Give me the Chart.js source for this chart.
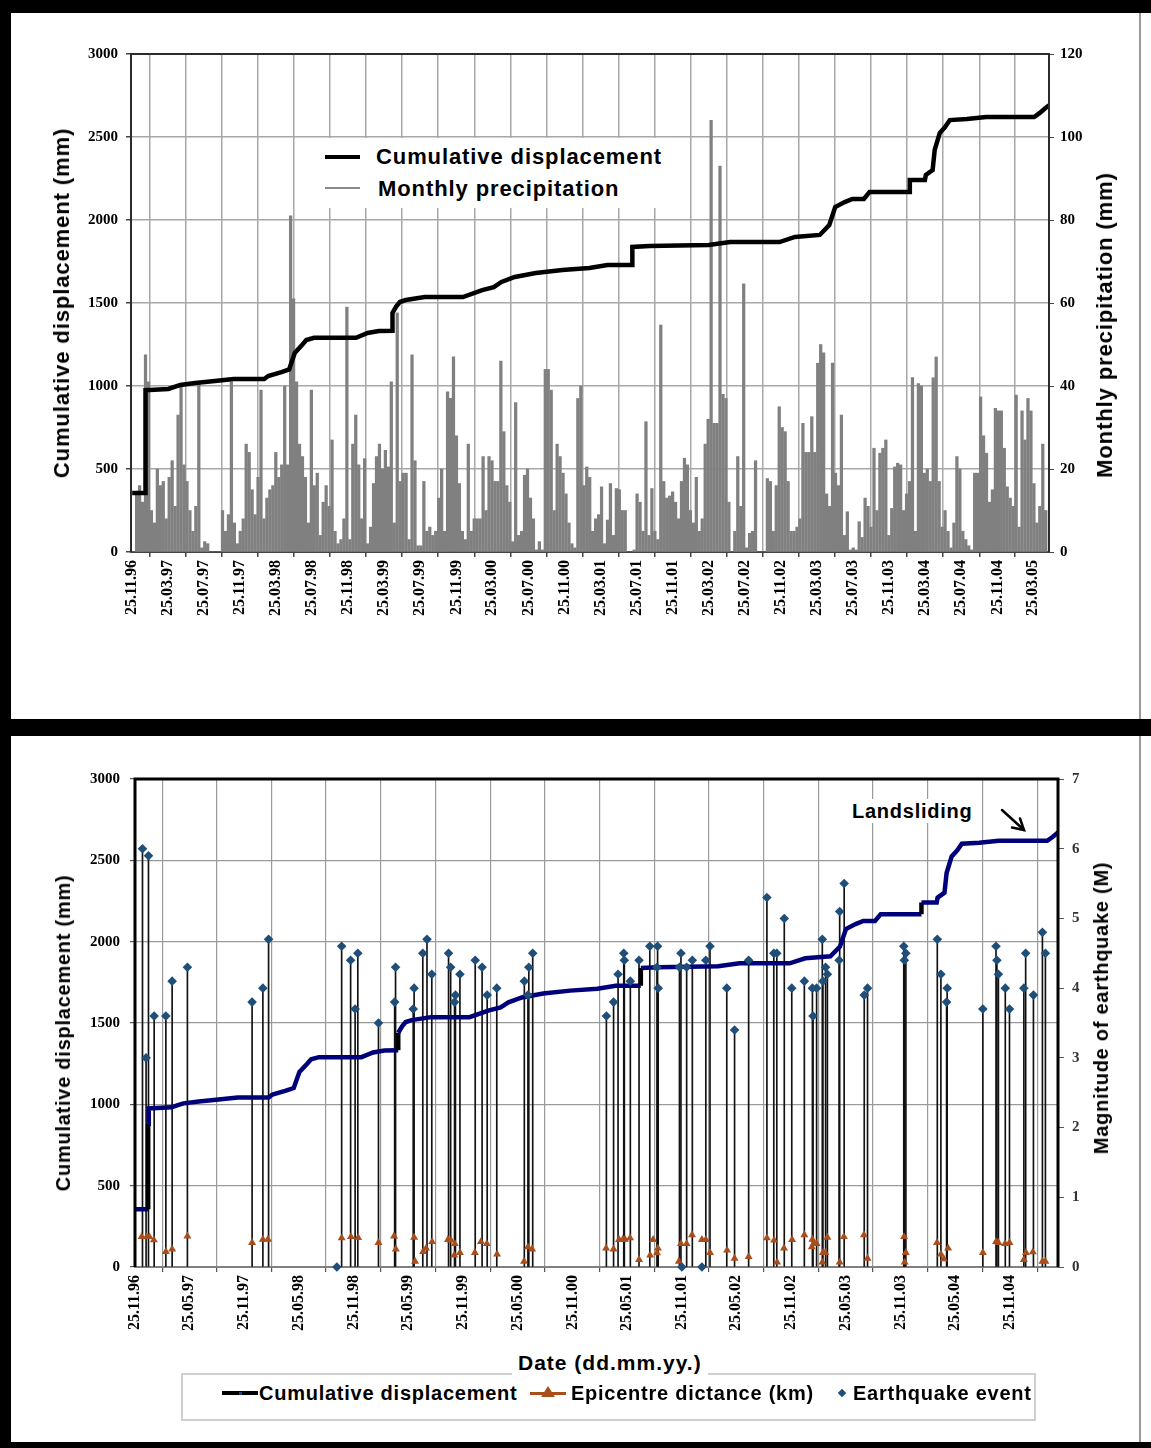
<!DOCTYPE html>
<html>
<head>
<meta charset="utf-8">
<script src="https://cdn.jsdelivr.net/npm/chart.js@4.4.1/dist/chart.umd.min.js"></script>
<style>
body { margin: 0; background: #fff; }
#page { position: relative; width: 1151px; height: 1448px; overflow: hidden; font-family: 'Liberation Sans', Arial, sans-serif; }
.box { position: absolute; }
.band { position: absolute; background: #000; z-index: 5; }
.ttl { position: absolute; font-weight: bold; white-space: nowrap; line-height: 1; transform: translate(-50%, -50%) rotate(-90deg); }
.lbl { position: absolute; font-weight: bold; white-space: nowrap; line-height: 1; transform: translateY(-50%); }
.big { font-size: 22px; letter-spacing: 0.9px; }
.mid { font-size: 20px; letter-spacing: 0.75px; }
.swatch { position: absolute; }
</style>
</head>
<body>
<div id="page">
  <div class="box" style="left:0;top:0;width:1151px;height:720px"><canvas id="topChart" width="1151" height="720"></canvas></div>
  <div class="box" style="left:0;top:736px;width:1151px;height:620px"><canvas id="bottomChart" width="1151" height="620"></canvas></div>

  <!-- frames -->
  <div class="band" style="left:0;top:0;width:1151px;height:13px"></div>
  <div class="band" style="left:0;top:0;width:11px;height:1448px"></div>
  <div class="band" style="left:0;top:719px;width:1151px;height:17px"></div>
  <div class="band" style="left:0;top:1442px;width:1151px;height:6px"></div>
  <div class="box" style="left:1139px;top:13px;width:2px;height:1429px;background:#9a9a9a"></div>

  <!-- upper panel texts -->
  <div class="ttl big" style="left:62px;top:303px">Cumulative displacement (mm)</div>
  <div class="ttl big" style="left:1105px;top:325px">Monthly precipitation (mm)</div>
  <div class="box" style="left:300px;top:138px;width:380px;height:70px;background:#fff"></div>
  <div class="swatch" style="left:325px;top:155px;width:35px;height:4px;background:#000"></div>
  <div class="lbl big" style="left:376px;top:157px">Cumulative displacement</div>
  <div class="swatch" style="left:325px;top:187px;width:35px;height:2px;background:#8a8a8a"></div>
  <div class="lbl big" style="left:378px;top:189px">Monthly precipitation</div>

  <!-- lower panel texts -->
  <div class="ttl mid" style="left:63px;top:1033px">Cumulative displacement (mm)</div>
  <div class="ttl mid" style="left:1101px;top:1008px">Magnitude of earthquake (M)</div>
  <div class="lbl mid" style="left:850px;top:811px;background:#fff;padding:2px 2px">Landsliding</div>
  <svg class="box" style="left:990px;top:800px" width="45" height="40">
    <g stroke="#000" stroke-width="2.5" fill="none" stroke-linecap="round">
      <line x1="12" y1="10" x2="34" y2="30"/>
      <polyline points="30,18.5 34,30 22,27.5"/>
    </g>
  </svg>
  <div class="box" style="left:181px;top:1373px;width:851px;height:44px;border:2px solid #cfcfcf"></div>
  <div class="lbl mid" style="left:512px;top:1362px;background:#fff;padding:3px 6px;font-size:21px;letter-spacing:1px">Date (dd.mm.yy.)</div>
  <div class="swatch" style="left:222px;top:1391px;width:36px;height:4px;background:#000"></div>
  <div class="swatch" style="left:239px;top:1392px;width:3px;height:3px;background:#1c3f8c"></div>
  <div class="lbl mid" style="left:259px;top:1393px">Cumulative displacement</div>
  <div class="swatch" style="left:530px;top:1392px;width:36px;height:3px;background:#a84d1c"></div>
  <svg class="box" style="left:541px;top:1386px" width="14" height="12"><polygon points="7,0 14,11 0,11" fill="#a84d1c"/></svg>
  <div class="lbl mid" style="left:571px;top:1393px">Epicentre dictance (km)</div>
  <div class="swatch" style="left:839px;top:1390px;width:6px;height:6px;background:#1f4e79;transform:rotate(45deg)"></div>
  <div class="lbl mid" style="left:853px;top:1393px">Earthquake event</div>
</div>

<script>
// dates are counted in days from 25.11.1996
const topTickDates = ['25.11.96', '25.03.97', '25.07.97', '25.11.97', '25.03.98', '25.07.98', '25.11.98',
  '25.03.99', '25.07.99', '25.11.99', '25.03.00', '25.07.00', '25.11.00', '25.03.01', '25.07.01', '25.11.01',
  '25.03.02', '25.07.02', '25.11.02', '25.03.03', '25.07.03', '25.11.03', '25.03.04', '25.07.04', '25.11.04', '25.03.05'];
const bottomTickDates = ['25.11.96', '25.05.97', '25.11.97', '25.05.98', '25.11.98', '25.05.99', '25.11.99',
  '25.05.00', '25.11.00', '25.05.01', '25.11.01', '25.05.02', '25.11.02', '25.05.03', '25.11.03', '25.05.04', '25.11.04'];

// cumulative displacement (mm)
const dispDays = [0, 44, 44, 46, 58, 122, 143, 162, 213, 279, 343, 446, 459, 504, 530, 549, 575, 588, 614, 756,
  795, 833, 879, 879, 892, 904, 924, 988, 1117, 1182, 1221, 1247, 1292, 1363, 1453, 1544, 1605, 1689, 1689, 1747,
  1947, 2019, 2186, 2238, 2322, 2354, 2374, 2406, 2432, 2471, 2490, 2626, 2626, 2677, 2680, 2703, 2710, 2727, 2745,
  2761, 2819, 2884, 3046, 3065, 3084, 3096];
const dispMm = [355, 355, 880, 975, 976, 982, 995, 1006, 1018, 1030, 1042, 1042, 1060, 1084, 1100, 1199, 1250, 1277, 1290, 1290,
  1319, 1331, 1333, 1440, 1480, 1506, 1518, 1536, 1536, 1578, 1596, 1627, 1657, 1681, 1699, 1711, 1729, 1729, 1838, 1843,
  1849, 1867, 1867, 1898, 1910, 1970, 2078, 2108, 2127, 2127, 2169, 2169, 2241, 2241, 2271, 2301, 2422, 2524, 2560,
  2602, 2608, 2620, 2620, 2645, 2675, 2690];

// precipitation (mm), one value per 10-day period from day 0
const precipFirstDay = 5;
const precipStepDays = 10;
const precipMm = [
  0, 14, 16, 12, 47.5, 41, 10, 7, 20, 16,
  17, 8, 18, 22, 11, 33, 40, 21, 17, 10,
  5, 11, 41, 1, 2.5, 2, 0, 0, 0, 0,
  10, 5, 9, 41, 7, 2, 5, 8, 26, 24,
  15, 9, 18, 39, 8, 13, 15, 16, 24, 18,
  21, 40, 21, 81, 61, 41, 26, 23, 18, 7,
  39, 16, 19, 4, 12, 16, 11, 27, 5, 2,
  3, 8, 59, 3, 26, 33, 21, 8, 22.5, 2,
  6, 16.5, 23, 26, 20, 24.5, 20.5, 41, 7, 57.6,
  17, 19, 19, 3, 47.5, 22, 1.5, 1.5, 17, 5,
  6, 4, 5, 13, 20, 5, 38.6, 37, 47, 28,
  16.5, 5, 3, 26, 5, 8, 8, 8, 23, 10,
  23, 22, 17, 17, 46, 29, 16, 12, 2.5, 36,
  4, 5, 18.5, 20, 13, 8, 0.5, 2.5, 0.5, 44,
  44, 39, 10, 26, 23, 19, 14, 7, 2, 1,
  37, 40, 16, 20.5, 18, 5, 8, 9, 15.7, 2,
  7.7, 16.5, 4, 15.3, 15, 10, 10, 0, 0, 0.5,
  14, 12, 5, 31.4, 4, 15.3, 5, 3, 54.7, 17,
  13, 13.5, 14.5, 12, 8, 17, 22.6, 21, 10, 7,
  18, 5, 8, 26, 32, 104, 31, 31, 93, 38,
  37, 12, 0, 5, 23, 11, 64.6, 1, 4.5, 5,
  22, 0, 0, 0, 17.7, 17, 5, 16, 35, 30,
  29, 17, 5, 5, 6, 8, 31, 24, 24, 32.6,
  24, 45.5, 50, 48, 14, 11, 45.5, 19, 16, 33,
  4, 9.7, 0.5, 1, 0.5, 7.3, 3.5, 13, 11, 6,
  25, 10, 23.8, 25, 27, 4, 10.5, 20.5, 21.4, 21,
  10, 14, 17, 42, 5, 40.6, 40, 19, 20, 17,
  42, 47, 17, 6, 10, 5, 1, 7, 23, 20,
  5, 3, 1.5, 0.5, 19, 19, 37.4, 28, 23.8, 12,
  15, 34.6, 34, 34, 25, 15.7, 13, 11, 37.8, 6,
  34, 27, 37, 34, 16.5, 7, 11, 26, 10];

// earthquake events: day and magnitude (M)
const quakeDays = [25, 37, 45, 64, 103, 124, 175, 391, 427, 446, 674, 690, 720, 735, 744, 813, 867, 870, 929, 932,
  961, 975, 991, 1047, 1054, 1067, 1070, 1085, 1136, 1159, 1176, 1208, 1300, 1312, 1315, 1328, 1574, 1598, 1613, 1632,
  1634, 1654, 1683, 1719, 1743, 1745, 1747, 1818, 1823, 1826, 1842, 1861, 1893, 1906, 1920, 1976, 2002, 2049, 2110, 2133,
  2143, 2168, 2193, 2235, 2262, 2264, 2276, 2295, 2297, 2306, 2312, 2351, 2353, 2368, 2435, 2446, 2567, 2569, 2574, 2679,
  2691, 2710, 2712, 2831, 2875, 2878, 2883, 2906, 2920, 2968, 2974, 3000, 3030, 3040];
const quakeMag = [6.0, 3.0, 5.9, 3.6, 3.6, 4.1, 4.3, 3.8, 4.0, 4.7, 0, 4.6, 4.4, 3.7, 4.5, 3.5, 3.8, 4.3, 3.7, 4.0,
  4.5, 4.7, 4.2, 4.5, 4.3, 3.8, 3.9, 4.2, 4.4, 4.3, 3.9, 4.0, 4.1, 3.9, 4.3, 4.5, 3.6, 3.8, 4.2, 4.5,
  4.4, 4.1, 4.4, 4.6, 4.3, 4.6, 4.0, 4.3, 4.5, 0, 4.3, 4.4, 0, 4.4, 4.6, 4.0, 3.4, 4.4, 5.3, 4.5,
  4.5, 5.0, 4.0, 4.1, 4.0, 3.6, 4.0, 4.7, 4.1, 4.3, 4.2, 4.4, 5.1, 5.5, 3.9, 4.0, 4.6, 4.4, 4.5, 4.7,
  4.2, 3.8, 4.0, 3.7, 4.6, 4.4, 4.2, 4.0, 3.7, 4.0, 4.5, 3.9, 4.8, 4.5];

// epicentre distance (km)
const distDays = [22, 39, 48, 63, 103, 124, 175, 391, 427, 444, 690, 721, 745, 813, 865, 871, 932, 935, 962, 972,
  992, 1045, 1055, 1066, 1068, 1085, 1135, 1155, 1175, 1209, 1299, 1312, 1326, 1573, 1598, 1616, 1629, 1636, 1653, 1683,
  1720, 1730, 1743, 1746, 1816, 1823, 1842, 1860, 1893, 1906, 1920, 1977, 2002, 2049, 2110, 2134, 2144, 2167, 2194, 2235,
  2260, 2262, 2266, 2276, 2295, 2297, 2305, 2312, 2353, 2367, 2434, 2446, 2568, 2570, 2574, 2678, 2691, 2701, 2715, 2831,
  2875, 2883, 2905, 2920, 2968, 2975, 2998, 3030, 3040];
const distKm = [186, 186, 186, 166, 94, 110, 190, 150, 170, 170, 178, 186, 180, 150, 190, 110, 182, 34, 94, 115,
  155, 168, 164, 72, 143, 88, 88, 155, 143, 78, 34, 123, 110, 115, 110, 168, 170, 170, 178, 45,
  72, 168, 86, 115, 34, 143, 143, 197, 168, 168, 88, 103, 53, 63, 178, 164, 29, 115, 168, 197,
  123, 170, 143, 143, 29, 88, 88, 182, 29, 186, 197, 53, 186, 29, 88, 150, 78, 49, 115, 88,
  155, 150, 143, 150, 45, 88, 92, 34, 34];

const BASE = Date.UTC(1996, 10, 25);
function dayOf(s) {
  const [d, m, y] = s.split('.').map(Number);
  return Math.round((Date.UTC(y < 50 ? 2000 + y : 1900 + y, m - 1, d) - BASE) / 86400000);
}
function xTicks(dates) {
  const days = dates.map(dayOf);
  const names = new Map(days.map((v, i) => [v, dates[i]]));
  return { days, label: v => names.get(v) ?? '' };
}
const pts = (xs, ys) => xs.map((x, i) => ({ x, y: ys[i] }));
const plain = v => String(v);

const serif = "'Liberation Serif', 'Times New Roman', serif";

const plotFrame = {
  id: 'plotFrame',
  afterDatasetsDraw(chart, args, opts) {
    const a = chart.chartArea, ctx = chart.ctx;
    ctx.save();
    ctx.strokeStyle = opts.color;
    ctx.lineWidth = opts.width;
    ctx.beginPath();
    ctx.moveTo(a.left, a.bottom);
    ctx.lineTo(a.left, a.top);
    ctx.lineTo(a.right, a.top);
    ctx.lineTo(a.right, a.bottom);
    ctx.stroke();
    ctx.restore();
  }
};

// ---- displacement and precipitation ----
const topX = xTicks(topTickDates);
new Chart(document.getElementById('topChart'), {
  type: 'line',
  data: {
    datasets: [
      {
        label: 'Cumulative displacement',
        data: pts(dispDays, dispMm),
        borderColor: '#000',
        borderWidth: 4.5,
        pointRadius: 0,
        tension: 0,
        yAxisID: 'y',
        order: 0
      },
      {
        type: 'bar',
        label: 'Monthly precipitation',
        data: precipMm.map((v, i) => ({ x: precipFirstDay + i * precipStepDays, y: v })),
        backgroundColor: '#808080',
        barThickness: 2.6,
        yAxisID: 'yP',
        order: 1
      }
    ]
  },
  options: {
    responsive: false,
    animation: false,
    layout: { padding: { top: 54, left: 0, right: 0, bottom: 0 } },
    plugins: {
      legend: { display: false },
      tooltip: { enabled: false },
      plotFrame: { color: '#2b2b2b', width: 2 }
    },
    scales: {
      x: {
        type: 'linear', min: -4, max: 3096, offset: false,
        afterBuildTicks: s => { s.ticks = topX.days.map(v => ({ value: v })); },
        afterFit: s => { s.height = 168; },
        grid: { color: '#a8a8a8', lineWidth: 1.5, tickLength: 5, tickColor: '#444' },
        border: { color: '#444', width: 2 },
        ticks: {
          autoSkip: false, maxRotation: 90, minRotation: 90, padding: 3, color: '#000',
          font: { family: serif, weight: 'bold', size: 16 },
          callback: topX.label
        }
      },
      y: {
        position: 'left', min: 0, max: 3000,
        afterFit: s => { s.width = 131; },
        grid: { color: '#a8a8a8', lineWidth: 1.5, tickLength: 5, tickColor: '#444' },
        border: { display: false },
        ticks: { stepSize: 500, padding: 8, color: '#000', font: { family: serif, weight: 'bold', size: 15 }, callback: plain }
      },
      yP: {
        position: 'right', min: 0, max: 120,
        afterFit: s => { s.width = 102; },
        grid: { drawOnChartArea: false, tickLength: 5, tickColor: '#444' },
        border: { display: false },
        ticks: { stepSize: 20, padding: 6, color: '#000', font: { family: serif, weight: 'bold', size: 15 }, callback: plain }
      }
    }
  },
  plugins: [plotFrame]
});

// ---- displacement and earthquakes ----
const botX = xTicks(bottomTickDates);
new Chart(document.getElementById('bottomChart'), {
  type: 'line',
  data: {
    datasets: [
      {
        type: 'scatter',
        label: 'Earthquake event',
        data: pts(quakeDays, quakeMag),
        pointStyle: 'rectRot',
        pointRadius: 4.8,
        pointBackgroundColor: '#1f4e79',
        pointBorderWidth: 0,
        yAxisID: 'yM',
        clip: false,
        order: 0
      },
      {
        type: 'scatter',
        label: 'Epicentre dictance (km)',
        data: pts(distDays, distKm),
        pointStyle: 'triangle',
        pointRadius: 4.6,
        pointBackgroundColor: '#a84d1c',
        pointBorderWidth: 0,
        yAxisID: 'y',
        clip: false,
        order: 1
      },
      {
        label: 'Cumulative displacement',
        data: pts(dispDays, dispMm),
        borderColor: '#00007a',
        borderWidth: 4.5,
        pointRadius: 0,
        tension: 0,
        segment: { borderColor: c => c.p0.parsed.x === c.p1.parsed.x ? '#000' : '#00007a' },
        yAxisID: 'y',
        order: 2
      },
      {
        // drop lines from each event down to the axis
        type: 'bar',
        label: 'drop',
        data: pts(quakeDays, quakeMag),
        backgroundColor: '#111',
        barThickness: 1,
        yAxisID: 'yM',
        order: 3
      }
    ]
  },
  options: {
    responsive: false,
    animation: false,
    layout: { padding: { top: 43, left: 0, right: 0, bottom: 0 } },
    plugins: {
      legend: { display: false },
      tooltip: { enabled: false },
      plotFrame: { color: '#000', width: 3 }
    },
    scales: {
      x: {
        type: 'linear', min: 0, max: 3082, offset: false,
        afterBuildTicks: s => { s.ticks = botX.days.map(v => ({ value: v })); },
        afterFit: s => { s.height = 89; },
        grid: { color: '#9a9a9a', lineWidth: 1.2, tickLength: 5, tickColor: '#555' },
        border: { color: '#808080', width: 2 },
        ticks: {
          autoSkip: false, maxRotation: 90, minRotation: 90, padding: 3, color: '#000',
          font: { family: serif, weight: 'bold', size: 16 },
          callback: botX.label
        }
      },
      y: {
        position: 'left', min: 0, max: 3000,
        afterFit: s => { s.width = 135; },
        grid: { color: '#9a9a9a', lineWidth: 1.2, tickLength: 5, tickColor: '#555' },
        border: { display: false },
        ticks: { stepSize: 500, padding: 10, color: '#000', font: { family: serif, weight: 'bold', size: 15 }, callback: plain }
      },
      yM: {
        position: 'right', min: 0, max: 7,
        afterFit: s => { s.width = 93; },
        grid: { drawOnChartArea: false, tickLength: 6, tickColor: '#555' },
        border: { display: false },
        ticks: { stepSize: 1, padding: 8, color: '#333', font: { family: serif, weight: 'bold', size: 15 }, callback: plain }
      }
    }
  },
  plugins: [plotFrame]
});
</script>
</body>
</html>
